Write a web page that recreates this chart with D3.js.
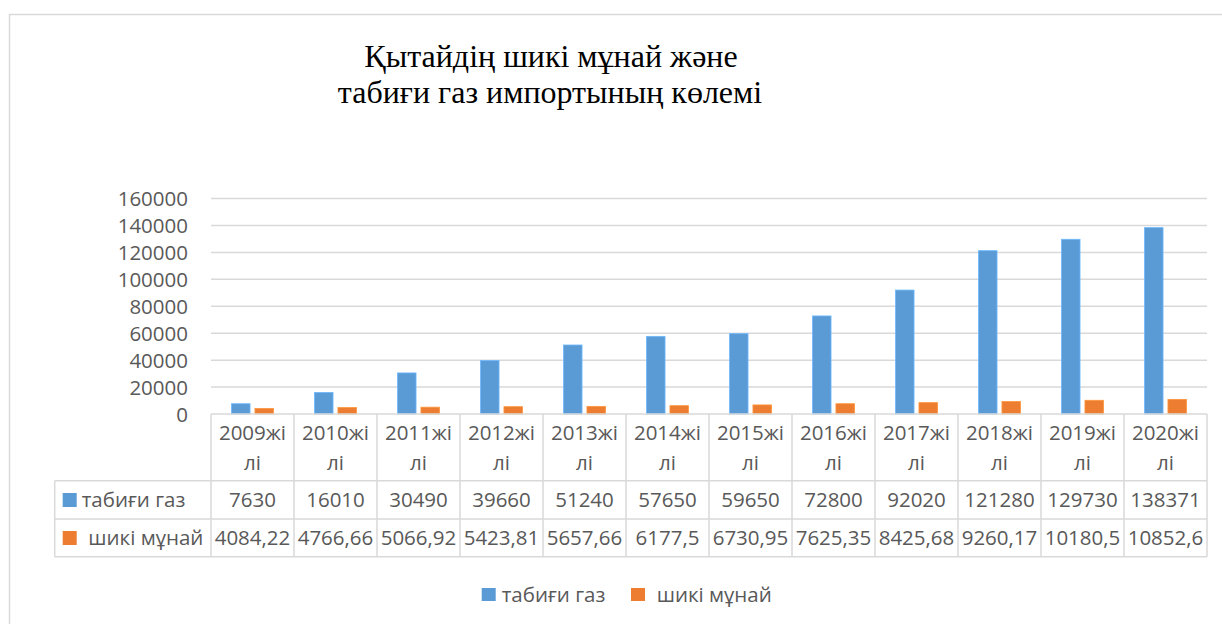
<!DOCTYPE html>
<html>
<head>
    <script src="https://d3js.org/d3.v7.min.js"></script>
    <style>
        body { margin: 0; background: #fff; }
        svg { display: block; }
        .lbl { font-family: "Open Sans", sans-serif; font-size: 20.5px; fill: #595959; }
        .title { font-family: "Liberation Serif", "Times New Roman", serif; font-size: 32px; fill: #000; }
        .grid line { stroke: #d9d9d9; stroke-width: 1.5px; }
        .cell { stroke: #d9d9d9; stroke-width: 1.5px; }
    </style>
</head>
<body>
    <svg width="1222" height="624"></svg>
    <script>
        // chart data
        let years = ["2009", "2010", "2011", "2012", "2013", "2014", "2015", "2016", "2017", "2018", "2019", "2020"];
        let seriesNames = ["табиғи газ", "шикі мұнай"];
        let gas = [7630, 16010, 30490, 39660, 51240, 57650, 59650, 72800, 92020, 121280, 129730, 138371];
        let oil = [4084.22, 4766.66, 5066.92, 5423.81, 5657.66, 6177.5, 6730.95, 7625.35, 8425.68, 9260.17, 10180.5, 10852.6];
        let yTicks = [0, 20000, 40000, 60000, 80000, 100000, 120000, 140000, 160000];
        let colors = ["#5b9bd5", "#ed7d31"];

        let svg = d3.select("svg");

        // outer frame of the chart area
        svg.append("path")
            .attr("d", "M9.5,640 L9.5,14.5 L1240,14.5")
            .attr("fill", "none")
            .attr("stroke", "#d9d9d9")
            .attr("stroke-width", 1.5);

        // title, two lines
        let title = svg.append("text").attr("class", "title").attr("text-anchor", "middle");
        title.append("tspan").attr("x", 551).attr("y", 66.5).text("Қытайдің шикі мұнай және");
        title.append("tspan").attr("x", 550).attr("y", 102.5).text("табиғи газ импортының көлемі");

        let plotLeft = 211, plotRight = 1207, plotTop = 198.5, plotBottom = 414;

        let x0 = d3.scaleBand().domain(years).range([plotLeft, plotRight]);
        let x1 = d3.scaleBand().domain(seriesNames).range([20.5, 62.5]).paddingInner(0.21);
        let y = d3.scaleLinear().domain([0, 160000]).range([plotBottom, plotTop]);

        // gridlines
        svg.append("g").attr("class", "grid")
            .selectAll("line")
            .data(yTicks.slice(1))
            .enter()
            .append("line")
            .attr("x1", plotLeft).attr("x2", plotRight)
            .attr("y1", d => y(d)).attr("y2", d => y(d));

        // y axis labels
        let yAxis = d3.axisLeft(y).tickValues(yTicks).tickSize(0).tickPadding(0).tickFormat(d3.format("d"));
        let gy = svg.append("g").attr("transform", "translate(188,0)").call(yAxis);
        gy.attr("font-family", null).attr("font-size", null);
        gy.select(".domain").remove();
        gy.selectAll("text").attr("class", "lbl").attr("fill", null).attr("dy", "0.36em");

        // bars
        let values = [gas, oil];
        let groups = svg.append("g").selectAll("g")
            .data(years)
            .enter()
            .append("g")
            .attr("transform", d => "translate(" + x0(d) + ",0)");
        groups.selectAll("rect")
            .data((d, i) => seriesNames.map((s, k) => ({ s: s, v: values[k][i], k: k })))
            .enter()
            .append("rect")
            .attr("x", d => x1(d.s))
            .attr("width", x1.bandwidth())
            .attr("y", d => y(d.v))
            .attr("height", d => y(0) - y(d.v))
            .attr("fill", d => colors[d.k])
            .attr("stroke", d => d3.color(colors[d.k]).brighter(0.5))
            .attr("stroke-width", 0.8);

        // data table under the plot
        let headBottom = 480.7, row1Bottom = 519, row2Bottom = 556.7, tableLeft = 54.7;
        let table = svg.append("g");
        // horizontal lines
        [[plotLeft, plotBottom], [tableLeft, headBottom], [tableLeft, row1Bottom], [tableLeft, row2Bottom]].forEach(p => {
            table.append("line").attr("class", "cell")
                .attr("x1", p[0]).attr("x2", plotRight).attr("y1", p[1]).attr("y2", p[1]);
        });
        // vertical lines
        let bounds = years.map(d => x0(d)).concat([plotRight]);
        table.selectAll("line.v")
            .data(bounds)
            .enter()
            .append("line")
            .attr("class", "cell v")
            .attr("x1", d => d).attr("x2", d => d)
            .attr("y1", plotBottom).attr("y2", row2Bottom);
        table.append("line").attr("class", "cell")
            .attr("x1", tableLeft).attr("x2", tableLeft).attr("y1", headBottom).attr("y2", row2Bottom);

        // header texts (two lines)
        let head = table.selectAll("text.h")
            .data(years)
            .enter()
            .append("text")
            .attr("class", "lbl h")
            .attr("text-anchor", "middle");
        head.append("tspan").attr("x", d => x0(d) + x0.bandwidth() / 2).attr("y", 440).text(d => d + "жі");
        head.append("tspan").attr("x", d => x0(d) + x0.bandwidth() / 2).attr("y", 470).text("лі");

        // value rows
        let fmt = v => String(v).replace(".", ",");
        let rowY = [507, 545];
        values.forEach((vals, k) => {
            table.selectAll("text.r" + k)
                .data(vals)
                .enter()
                .append("text")
                .attr("class", "lbl r" + k)
                .attr("text-anchor", "middle")
                .attr("x", (d, i) => x0(years[i]) + x0.bandwidth() / 2)
                .attr("y", rowY[k])
                .text(d => fmt(d));
            table.append("rect")
                .attr("x", 62.7).attr("y", rowY[k] - 14)
                .attr("width", 14).attr("height", 14)
                .attr("fill", colors[k]);
            table.append("text")
                .attr("class", "lbl")
                .attr("x", k === 0 ? 81.7 : 88.3)
                .attr("y", rowY[k])
                .text(seriesNames[k]);
        });

        // legend
        let legX = [481.7, 631];
        let legend = svg.append("g").selectAll("g")
            .data(seriesNames)
            .enter()
            .append("g")
            .attr("transform", (d, i) => "translate(" + legX[i] + ",588)");
        legend.append("rect").attr("width", 14).attr("height", 13).attr("fill", (d, i) => colors[i]);
        legend.append("text").attr("class", "lbl")
            .attr("x", (d, i) => i === 0 ? 20 : 25.7)
            .attr("y", 14)
            .text(d => d);
    </script>
</body>
</html>
